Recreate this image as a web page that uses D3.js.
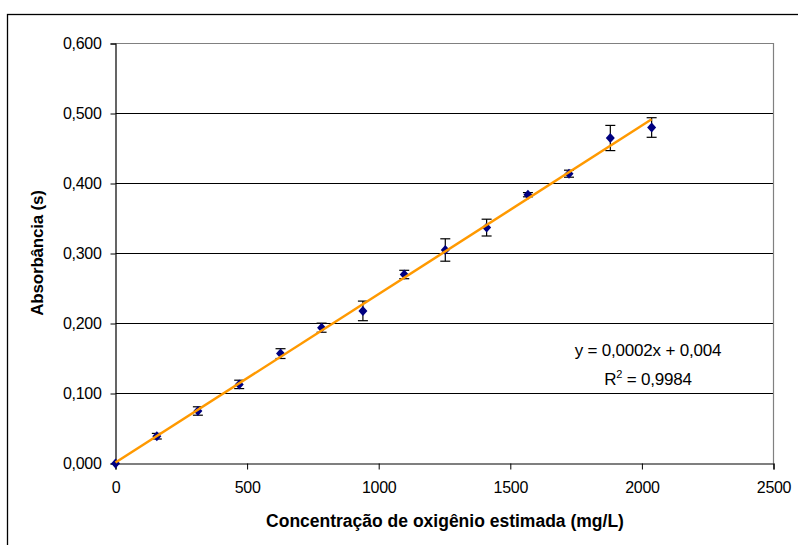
<!DOCTYPE html>
<html><head><meta charset="utf-8">
<script src="https://cdn.jsdelivr.net/npm/d3@7"></script>
<style>body{margin:0;background:#fff}svg{display:block}text{font-family:"Liberation Sans",Arial,sans-serif}</style>
</head><body><svg id="c" width="798" height="545"></svg>
<script>
const concentrations = [0,157,313,470,627,783,940,1097,1253,1410,1567,1723,1880,2037];
const absorbance = [0.000,0.039,0.075,0.113,0.157,0.194,0.218,0.270,0.305,0.337,0.384,0.414,0.465,0.480];
const errors = [0,0.004,0.006,0.006,0.007,0.0065,0.014,0.006,0.016,0.012,0.003,0.005,0.018,0.014];
const xTicks = [0,500,1000,1500,2000,2500];
const yTicks = [0,0.1,0.2,0.3,0.4,0.5,0.6];
const equationLine = "y = 0,0002x + 0,004";
const r2Value = "0,9984";

const svg = d3.select("#c");
svg.append("rect").attr("width",798).attr("height",545).attr("fill","#fff");
svg.append("rect").attr("x",7.5).attr("y",14.5).attr("width",900).attr("height",700)
  .attr("fill","none").attr("stroke","#000").attr("stroke-width",1.3);

const L=115.5,R=773.5,T=43.5,B=463.5;
const x=d3.scaleLinear().domain([0,2500]).range([L,R]);
const y=d3.scaleLinear().domain([0,0.6]).range([B,T]);

svg.append("g").selectAll("line").data(yTicks.slice(1)).join("line")
  .attr("x1",L).attr("x2",R).attr("y1",d=>y(d)).attr("y2",d=>y(d))
  .attr("stroke","#000").attr("stroke-width",1);
svg.append("path").attr("d",`M${L},${T}H${R}V${B}`).attr("fill","none").attr("stroke","#808080").attr("stroke-width",1.2);

const fmt = d=>d3.format(".3f")(d).replace(".",",");
const yAxis = svg.append("g").attr("transform",`translate(${L},0)`)
  .call(d3.axisLeft(y).tickValues(yTicks).tickFormat(fmt).tickSize(5).tickPadding(9));
const xAxis = svg.append("g").attr("transform",`translate(0,${B})`)
  .call(d3.axisBottom(x).tickValues(xTicks).tickFormat(d3.format("d")).tickSize(6).tickPadding(12));
[xAxis,yAxis].forEach(a=>{
  a.select(".domain").attr("stroke","#000").attr("stroke-width",1.2);
  a.selectAll(".tick line").attr("stroke","#000");
  a.selectAll("text").attr("font-size",16).attr("fill","#000")
    .attr("font-family","'Liberation Sans',Arial,sans-serif").attr("letter-spacing","-0.3px");
});

const n=concentrations.length;
const mx=d3.mean(concentrations), my=d3.mean(absorbance);
let sxy=0,sxx=0;
for(let i=0;i<n;i++){sxy+=(concentrations[i]-mx)*(absorbance[i]-my);sxx+=(concentrations[i]-mx)**2;}
const slope=sxy/sxx, icpt=my-slope*mx;
const x0=d3.min(concentrations), x1=d3.max(concentrations);

const eb=svg.append("g").attr("stroke","#000").attr("stroke-width",1.2);
concentrations.forEach((c,i)=>{
  if(!errors[i]) return;
  const cx=x(c), yt=y(absorbance[i]+errors[i]), yb=y(absorbance[i]-errors[i]);
  eb.append("line").attr("x1",cx).attr("x2",cx).attr("y1",yt).attr("y2",yb);
  eb.append("line").attr("x1",cx-5).attr("x2",cx+5).attr("y1",yt).attr("y2",yt);
  eb.append("line").attr("x1",cx-5).attr("x2",cx+5).attr("y1",yb).attr("y2",yb);
});

svg.append("g").selectAll("path").data(concentrations).join("path")
  .attr("transform",(d,i)=>`translate(${x(d)},${y(absorbance[i])})`)
  .attr("d","M0,-5L4.5,0L0,5L-4.5,0Z").attr("fill","#000080");

svg.append("line").attr("x1",x(x0)).attr("y1",y(slope*x0+icpt)).attr("x2",x(x1)).attr("y2",y(slope*x1+icpt))
  .attr("stroke","#FF9900").attr("stroke-width",2.5);

svg.append("text").attr("x",648).attr("y",356).attr("text-anchor","middle")
  .attr("font-size",17).attr("letter-spacing","-0.2px").text(equationLine);
const r2=svg.append("text").attr("x",648).attr("y",385).attr("text-anchor","middle")
  .attr("font-size",17).attr("letter-spacing","-0.2px");
r2.append("tspan").text("R");
r2.append("tspan").attr("font-size",11).attr("dy",-7).text("2");
r2.append("tspan").attr("dy",7).text(" = "+r2Value);

svg.append("text").attr("x",445).attr("y",527).attr("text-anchor","middle")
  .attr("font-size",17.5).attr("font-weight","bold")
  .text("Concentração de oxigênio estimada (mg/L)");
svg.append("text").attr("transform","translate(43,253) rotate(-90)").attr("text-anchor","middle")
  .attr("font-size",17).attr("font-weight","bold").attr("letter-spacing","-0.2px")
  .text("Absorbância (s)");
</script></body></html>
